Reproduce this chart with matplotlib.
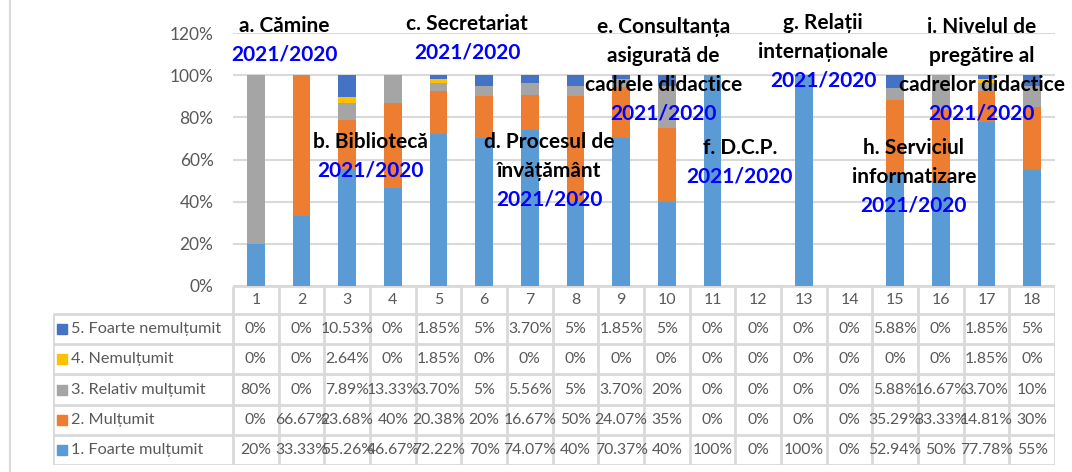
import matplotlib
matplotlib.use("Agg")
import matplotlib.pyplot as plt
from matplotlib.lines import Line2D
import numpy as np

plt.rcParams["font.family"] = ["Lato", "DejaVu Sans"]

categories = [str(i) for i in range(1, 19)]
series_names = [
    "1. Foarte mulțumit",
    "2. Mulțumit",
    "3. Relativ mulțumit",
    "4. Nemulțumit",
    "5. Foarte nemulțumit",
]
foarte_multumit = [20, 33.33, 55.26, 46.67, 72.22, 70, 74.07, 40, 70.37, 40, 100, 0, 100, 0, 52.94, 50, 77.78, 55]
multumit = [0, 66.67, 23.68, 40, 20.38, 20, 16.67, 50, 24.07, 35, 0, 0, 0, 0, 35.29, 33.33, 14.81, 30]
relativ_multumit = [80, 0, 7.89, 13.33, 3.70, 5, 5.56, 5, 3.70, 20, 0, 0, 0, 0, 5.88, 16.67, 3.70, 10]
nemultumit = [0, 0, 2.64, 0, 1.85, 0, 0, 0, 0, 0, 0, 0, 0, 0, 0, 0, 1.85, 0]
foarte_nemultumit = [0, 0, 10.53, 0, 1.85, 5, 3.70, 5, 1.85, 5, 0, 0, 0, 0, 5.88, 0, 1.85, 5]
series_values = [foarte_multumit, multumit, relativ_multumit, nemultumit, foarte_nemultumit]
colors = ["#5B9BD5", "#ED7D31", "#A5A5A5", "#FFC000", "#4472C4"]

y_ticks = [0, 20, 40, 60, 80, 100, 120]

# section labels: (x, y, black lines)
sections = [
    (0.62, 1.232, ["a. Cămine"]),
    (4.63, 1.242, ["c. Secretariat"]),
    (2.50, 0.682, ["b. Bibliotecă"]),
    (6.43, 0.682, ["d. Procesul de", "învățământ"]),
    (8.93, 1.227, ["e. Consultanța", "asigurată de", "cadrele didactice"]),
    (10.60, 0.654, ["f. D.C.P."]),
    (12.42, 1.246, ["g. Relații", "internaționale"]),
    (14.41, 0.654, ["h. Serviciul", "informatizare"]),
    (15.90, 1.227, ["i. Nivelul de", "pregătire al", "cadrelor didactice"]),
]
year_label = "2021/2020"

W, H = 1072, 472
GRID = "#D9D9D9"
TXT = "#595959"


def fmt(v):
    if float(v).is_integer():
        return f"{int(v)}%"
    return f"{v:.2f}%"


fig = plt.figure(figsize=(W / 100, H / 100), dpi=100)
left_px, right_px, top_px, zero_px = 233, 1055, 33, 286
ax = fig.add_axes([left_px / W, 1 - zero_px / H, (right_px - left_px) / W, (zero_px - top_px) / H])

x = np.arange(len(categories))
bottom = np.zeros(len(categories))
for vals, col in zip(series_values, colors):
    v = np.array(vals) / 100
    ax.bar(x, v, 0.39, bottom=bottom, color=col, zorder=3)
    bottom += v

ax.set_xlim(-0.5, len(categories) - 0.5)
ax.set_ylim(0, 1.2)
ax.set_yticks([t / 100 for t in y_ticks])
ax.set_yticklabels([f"{t}%" for t in y_ticks], color=TXT, fontsize=12.5)
ax.tick_params(axis="y", length=0, pad=14)
ax.set_xticks([])
ax.grid(axis="y", color=GRID, linewidth=1.5, zorder=0)
for s in ["top", "right", "left", "bottom"]:
    ax.spines[s].set_visible(False)

step = 0.136
for sx, sy, lines in sections:
    for i, line in enumerate(lines):
        ax.text(sx, sy - i * step, line, ha="center", va="center", fontsize=15,
                fontweight="bold", color="black", zorder=5, clip_on=False)
    ax.text(sx, sy - len(lines) * step, year_label, ha="center", va="center", fontsize=15,
            fontweight="bold", color="#0000FF", zorder=5, clip_on=False)

# data table below the chart
tab_left, tab_bottom = 53, 465
col_w = (right_px - left_px) / len(categories)
label_w = (left_px - tab_left) / col_w
tax = fig.add_axes([tab_left / W, 1 - tab_bottom / H, (right_px - tab_left) / W, (tab_bottom - zero_px) / H])
head_h = 0.93
n_rows = len(series_names)
tax.set_xlim(-0.5 - label_w, len(categories) - 0.5)
tax.set_ylim(n_rows, -head_h)
tax.axis("off")

lk = dict(color=GRID, linewidth=2, solid_capstyle="butt")
# horizontal lines
tax.plot([-0.5, len(categories) - 0.5], [-head_h, -head_h], **lk)
for r in range(n_rows + 1):
    tax.plot([-0.5 - label_w, len(categories) - 0.5], [r, r], **lk)
# vertical lines
tax.plot([-0.5 - label_w, -0.5 - label_w], [0, n_rows], **lk)
for c in range(len(categories) + 1):
    tax.plot([c - 0.5, c - 0.5], [-head_h, n_rows], **lk)

for c, cat in enumerate(categories):
    tax.text(c, -head_h / 2, cat, ha="center", va="center", fontsize=11.5, color=TXT)

for r, idx in enumerate(range(n_rows - 1, -1, -1)):
    yc = r + 0.5
    tax.plot(-0.5 - label_w + 0.2, yc, marker="s", markersize=7, color=colors[idx], clip_on=False)
    tax.text(-0.5 - label_w + 0.4, yc, series_names[idx], ha="left", va="center", fontsize=11.7, color=TXT)
    for c, v in enumerate(series_values[idx]):
        tax.text(c, yc, fmt(v), ha="center", va="center", fontsize=11.3, color=TXT)

fig.add_artist(Line2D([10 / W, 10 / W], [0, 1], color=GRID, linewidth=1.5))

fig.savefig("out.png", dpi=100)
